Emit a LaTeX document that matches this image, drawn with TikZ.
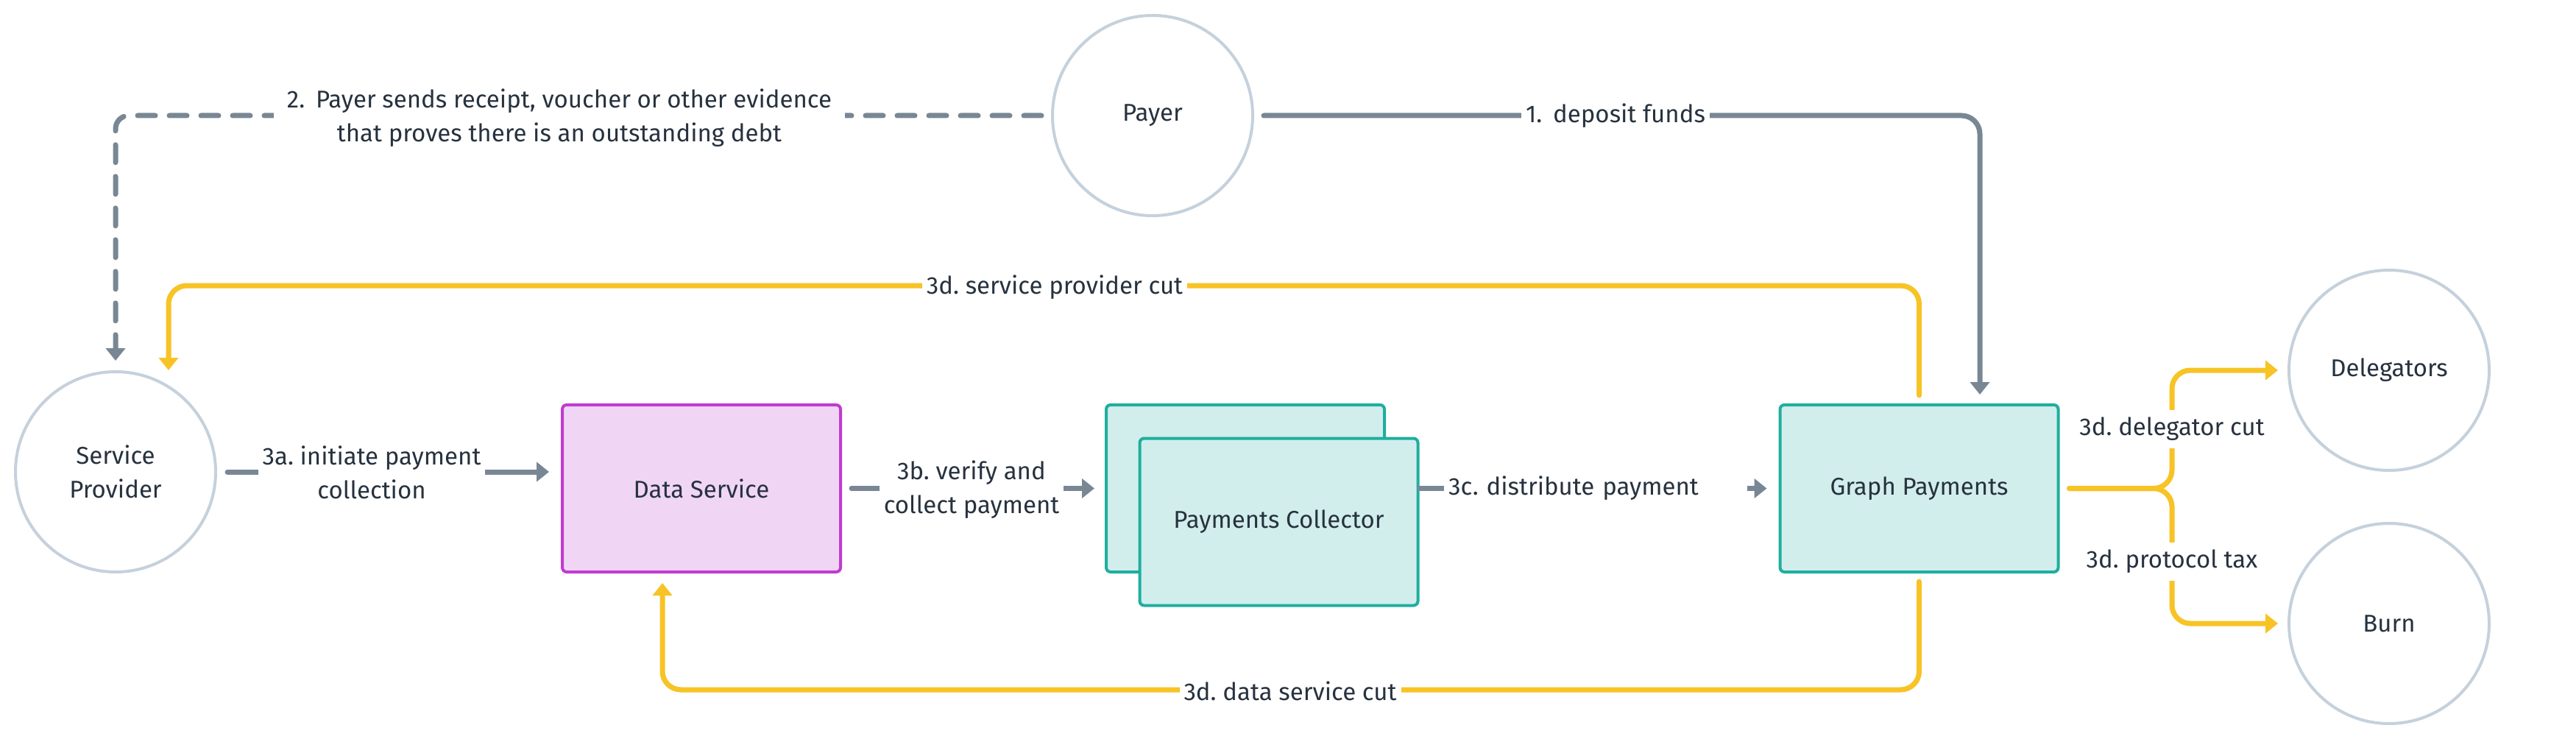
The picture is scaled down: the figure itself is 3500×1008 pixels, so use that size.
\documentclass[tikz,border=0pt]{standalone}
\usepackage{fontspec}
\setmainfont{Fira Sans}
\usetikzlibrary{arrows.meta,calc}
\frenchspacing
\definecolor{txt}{HTML}{27323F}
\definecolor{gline}{HTML}{798794}
\definecolor{yel}{HTML}{F7C325}
\definecolor{circ}{HTML}{C5D1DC}
\definecolor{purp}{HTML}{C03BD0}
\definecolor{purpfill}{HTML}{F0D6F4}
\definecolor{tealc}{HTML}{1FAE9E}
\definecolor{tealfill}{HTML}{D2EEEC}
\begin{document}
\begin{tikzpicture}[x=1pt,y=-1pt,
  every node/.style={text=txt, font=\fontsize{33}{46}\selectfont},
  actor/.style={circle, draw=circ, line width=4pt, minimum size=272pt, inner sep=0pt, align=center},
  dsbox/.style={rectangle, rounded corners=6pt, draw=purp, fill=purpfill, line width=4pt, minimum width=378pt, minimum height=227pt},
  tbox/.style={rectangle, rounded corners=6pt, draw=tealc, fill=tealfill, line width=4pt, minimum width=378pt, minimum height=227pt},
  gflow/.style={draw=gline, line width=7pt, line cap=round, -{Triangle[length=17pt,width=26pt]}},
  yflow/.style={draw=yel, line width=7pt, line cap=round, rounded corners=25pt, -{Triangle[length=17pt,width=26pt]}},
  lbl/.style={fill=white, inner xsep=6pt, inner ysep=4pt, align=center},
]
\useasboundingbox[fill=white] (0,0) rectangle (3500,1008);

% nodes
\node[actor] (payer) at (1566,157) {Payer};
\node[actor] (sp) at (157,641) {Service\\Provider};
\node[actor] (deleg) at (3246,503) {Delegators};
\node[actor] (burn) at (3246,847) {Burn};
\node[dsbox] (ds) at (953,663.5) {Data Service};
\node[tbox] (pcback) at (1692,663.5) {};
\node[tbox] (pc) at (1737.5,709) {Payments Collector};
\node[tbox] (gp) at (2607.5,663.5) {Graph Payments};

% helper coordinates
\coordinate (c1) at (2690,157);
\coordinate (c2) at (157,157);
\coordinate (c3) at (229,388);
\coordinate (c4) at (900,937);
\coordinate (jn) at (2951,663.5);

% 1. deposit funds
\draw[gflow, rounded corners=25pt, shorten <=13pt, shorten >=12pt] (payer.east) -- (c1) -- (c1 |- gp.north);
% 2. evidence (dashed)
\draw[gflow, dash pattern=on 24pt off 19pt, rounded corners=18pt, shorten <=13pt, shorten >=13pt] (payer.west) -- (c2) -- (sp.north);
% 3a
\draw[gflow, shorten <=14pt, shorten >=16pt] (sp.east) -- (sp.east -| ds.west);
% 3b
\draw[gflow, shorten <=13pt, shorten >=14pt] (ds.east) -- (pcback.west);
% 3c
\draw[gflow, shorten >=16pt] (pc.east |- gp.west) -- (gp.west);
% 3d service provider cut
\draw[yflow, shorten <=11pt] (gp.north) -- (gp.north |- c3) -- (c3) -- (c3 |- sp.north);
% 3d data service cut
\draw[yflow, shorten <=11pt, shorten >=13pt] (gp.south) -- (gp.south |- c4) -- (c4) -- (c4 |- ds.south);
% 3d delegator cut / protocol tax
\draw[yflow, shorten <=13pt, shorten >=13pt] (gp.east) -- (jn) -- (jn |- deleg.west) -- (deleg.west);
\draw[yflow, shorten <=13pt, shorten >=13pt] (gp.east) -- (jn) -- (jn |- burn.west) -- (burn.west);

% labels
\node[lbl] (l1) at (2195,157) {1.\hspace{0.45em}deposit funds};
\node[lbl, inner xsep=18pt] (l2) at (760,160) {2.\hspace{0.45em}Payer sends receipt, voucher or other evidence\\that proves there is an outstanding debt};
\node[lbl] (l3a) at (505,642) {3a. initiate payment\\collection};
\node[lbl] (l3b) at (1320,665) {3b. verify and\\collect payment};
\node[lbl, anchor=west, text width=400pt, align=left] (l3c) at (1962,663.5) {3c. distribute payment};
\node[lbl] (l3sp) at (1433,390) {3d. service provider cut};
\node[lbl] (l3ds) at (1753,939) {3d. data service cut};
\node[lbl, inner ysep=10pt] (l3dg) at (2951,583) {3d. delegator cut};
\node[lbl, inner ysep=10pt] (l3pt) at (2951,763) {3d. protocol tax};
\end{tikzpicture}
\end{document}
